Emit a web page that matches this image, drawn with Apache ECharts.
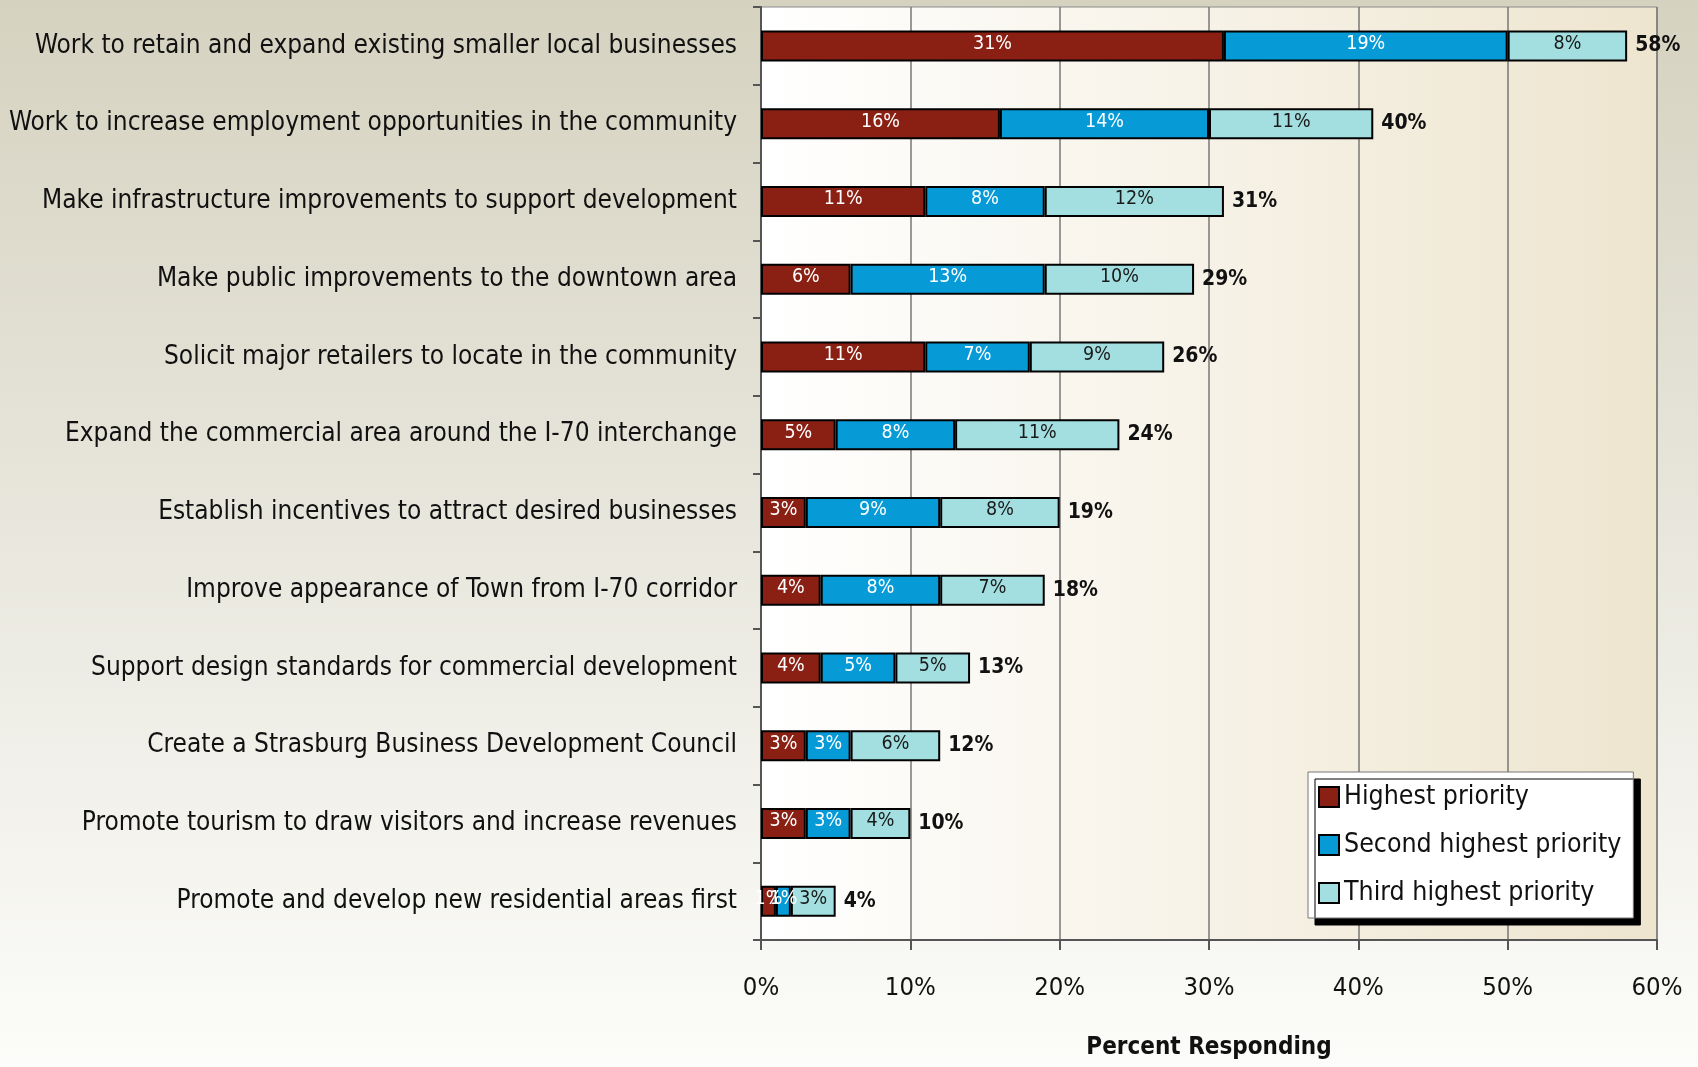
<!DOCTYPE html>
<html>
<head>
<meta charset="utf-8">
<script src="https://cdn.jsdelivr.net/npm/echarts@6/dist/echarts.min.js"></script>
<style>
html,body{margin:0;padding:0;width:1698px;height:1067px;overflow:hidden;}
#chart{width:1698px;height:1067px;}
</style>
</head>
<body>
<div id="chart"></div>
<script>
const categories = [
  "Work to retain and expand existing smaller local businesses",
  "Work to increase employment opportunities in the community",
  "Make infrastructure improvements to support development",
  "Make public improvements to the downtown area",
  "Solicit major retailers to locate in the community",
  "Expand the commercial area around the I-70 interchange",
  "Establish incentives to attract desired businesses",
  "Improve appearance of Town from I-70 corridor",
  "Support design standards for commercial development",
  "Create a Strasburg Business Development Council",
  "Promote tourism to draw visitors and increase revenues",
  "Promote and develop new residential areas first"
];
const highest = [31, 16, 11, 6, 11, 5, 3, 4, 4, 3, 3, 1];
const second  = [19, 14, 8, 13, 7, 8, 9, 8, 5, 3, 3, 1];
const third   = [8, 11, 12, 10, 9, 11, 8, 7, 5, 6, 4, 3];
const totals  = [58, 40, 31, 29, 26, 24, 19, 18, 13, 12, 10, 4];
const seriesNames = ["Highest priority", "Second highest priority", "Third highest priority"];
const xTicks = [0, 10, 20, 30, 40, 50, 60];

const FONT = "'Liberation Sans Narrow', 'DejaVu Sans Condensed', 'Roboto Condensed', 'Arial Narrow', sans-serif";
const chart = echarts.init(document.getElementById('chart'));

function barSeries(name, data, color, labelColor) {
  return {
    name: name, type: 'bar', stack: 'total', data: data, barWidth: 31,
    itemStyle: { color: color, borderColor: '#000', borderWidth: 2 },
    label: { show: true, position: 'inside', color: labelColor, fontFamily: FONT, fontSize: 19.5,
      offset: [0, -2], formatter: p => p.value + '%' },
    emphasis: { disabled: true }
  };
}

chart.setOption({
  animation: false,
  backgroundColor: { type: 'linear', x: 0, y: 0, x2: 0, y2: 1,
    colorStops: [{ offset: 0, color: '#d5d2c0' }, { offset: 1, color: '#fcfcfa' }] },
  textStyle: { fontFamily: FONT },
  grid: { left: 761, right: 41, top: 7, bottom: 127, show: true, borderColor: '#8a8a8a', borderWidth: 1,
    containLabel: false, outerBoundsMode: 'none',
    backgroundColor: { type: 'linear', x: 0, y: 0, x2: 1, y2: 0,
      colorStops: [{ offset: 0, color: '#ffffff' }, { offset: 1, color: '#eee5cf' }] } },
  legend: {
    data: seriesNames, orient: 'vertical', left: 1308, top: 772,
    backgroundColor: '#fff', borderColor: '#777', borderWidth: 1,
    shadowColor: '#000', shadowOffsetX: 7, shadowOffsetY: 7, shadowBlur: 0,
    padding: [10, 12, 10, 10], itemGap: 18, itemWidth: 20, itemHeight: 20,
    icon: 'rect',
    itemStyle: { borderColor: '#000', borderWidth: 2 },
    textStyle: { fontFamily: FONT, fontSize: 26.5, color: '#111', lineHeight: 30 },
    selectedMode: false
  },
  xAxis: {
    type: 'value', min: 0, max: 60, interval: 10,
    name: 'Percent Responding', nameLocation: 'middle', nameGap: 96,
    nameTextStyle: { fontFamily: FONT, fontSize: 24, color: '#111', fontWeight: 'bold' },
    axisLine: { show: true, lineStyle: { color: '#555', width: 2 } },
    axisTick: { show: true, length: 10, lineStyle: { color: '#555', width: 2 } },
    axisLabel: { formatter: '{value}%', fontFamily: FONT, fontSize: 25.5, color: '#111', margin: 35 },
    splitLine: { show: true, lineStyle: { color: '#777', width: 1.5 } }
  },
  yAxis: {
    type: 'category', data: categories, inverse: true,
    axisLine: { show: true, lineStyle: { color: '#555', width: 2 } },
    axisTick: { show: true, length: 8, lineStyle: { color: '#555', width: 2 } },
    axisLabel: { fontFamily: FONT, fontSize: 26, color: '#111', margin: 24 }
  },
  series: [
    barSeries(seriesNames[0], highest, '#8a2014', '#ffffff'),
    barSeries(seriesNames[1], second, '#069ad6', '#ffffff'),
    barSeries(seriesNames[2], third, '#a3dfe0', '#1a1a1a'),
    {
      name: 'Total', type: 'bar', stack: 'total', barWidth: 31,
      data: totals.map(() => 0),
      itemStyle: { color: 'transparent' },
      label: { show: true, position: 'right', distance: 8, color: '#111', fontFamily: FONT, fontSize: 21, fontWeight: 'bold',
        formatter: p => totals[p.dataIndex] + '%' },
      emphasis: { disabled: true }
    }
  ]
});
</script>
</body>
</html>
